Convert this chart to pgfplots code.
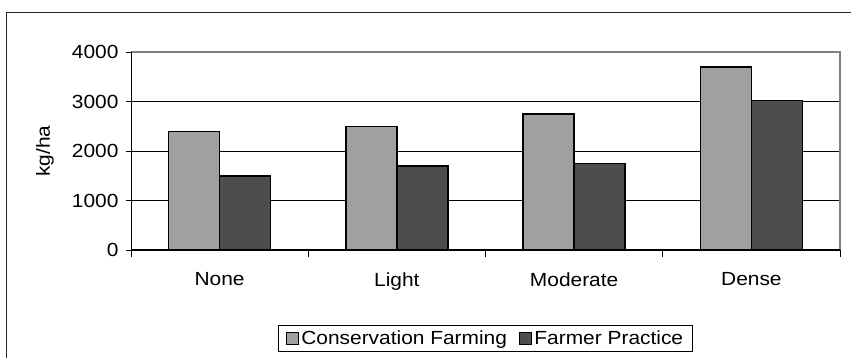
\documentclass[border=0pt]{standalone}
\usepackage{pgfplots}
\pgfplotsset{compat=1.18}
\usepackage{fontspec}
\setmainfont{Liberation Sans}[FakeStretch=1.1]
\definecolor{cf}{RGB}{160,160,160}
\definecolor{fp}{RGB}{77,77,77}
\definecolor{frameg}{RGB}{128,128,128}
\begin{document}
\begin{tikzpicture}[x=1pt,y=1pt]
\useasboundingbox (0,0) rectangle (851,358);
\draw[line width=1pt, black!85] (6,-2) -- (6,345) -- (853,345);
\begin{axis}[
  at={(131pt,108pt)}, anchor=south west,
  scale only axis, width=709pt, height=197.7pt,
  font=\fontsize{19}{22}\selectfont,
  /pgf/number format/assume math mode=true,
  /pgf/number format/fixed,
  /pgf/number format/1000 sep={},
  ybar=0pt, bar width=51pt,
  xmin=-0.5, xmax=3.5, ymin=0, ymax=4000,
  xtick={0,1,2,3}, xticklabels={None,Light,Moderate,Dense},
  major x tick style={draw=none},
  minor xtick={-0.5,0.5,1.5,2.5,3.5},
  minor x tick style={black, line width=0.8pt},
  minor tick length=7pt,
  ytick={0,1000,2000,3000,4000},
  ymajorgrids, major grid style={black, line width=0.8pt},
  major y tick style={black, line width=0.8pt},
  major tick length=5pt,
  tick align=outside,
  tick pos=left,
  axis line style={draw=none},
  scaled y ticks=false,
  xticklabel style={yshift=-14pt},
  yticklabel style={xshift=-4pt},
  ylabel={kg/ha},
  ylabel style={at={(axis description cs:-0.1213,0.5)}, anchor=center},
  legend columns=2,
  legend style={at={(axis description cs:0.5,-0.4477)}, anchor=center,
    draw=black, line width=0.8pt, inner xsep=7pt, inner ysep=3pt,
    /tikz/every even column/.append style={column sep=10pt},
    font=\fontsize{19}{22}\selectfont},
  legend image code/.code={\draw[#1, line width=1.5pt] (0pt,-6pt) rectangle (12pt,6pt);},
  legend cell align=left,
  clip=false,
]
\addplot[fill=cf, draw=black, line width=1.5pt] coordinates {(0,2400) (1,2500) (2,2750) (3,3700)};
\addplot[fill=fp, draw=black, line width=1.5pt] coordinates {(0,1500) (1,1700) (2,1750) (3,3020)};
\legend{Conservation Farming, Farmer Practice}
\draw[frameg, line width=1.8pt] (rel axis cs:0,1) -- (rel axis cs:1,1) -- (rel axis cs:1,0);
\draw[black, line width=1pt] (rel axis cs:0,1) -- (rel axis cs:0,0) -- (rel axis cs:1,0);
\end{axis}
\end{tikzpicture}
\end{document}
